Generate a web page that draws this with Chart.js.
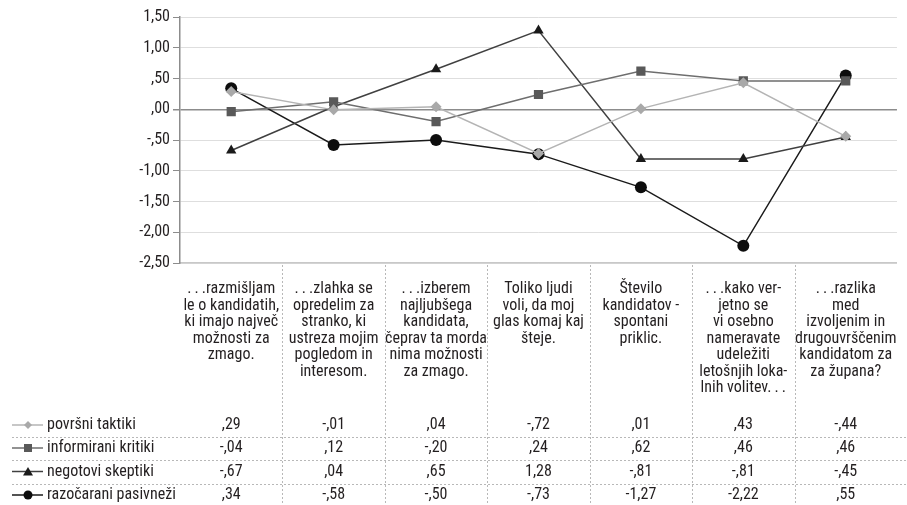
<!DOCTYPE html>
<html>
<head>
<meta charset="utf-8">
<script src="https://cdn.jsdelivr.net/npm/chart.js@4"></script>
<style>
  html, body { margin: 0; padding: 0; background: #fff; }
  #wrap { width: 907px; height: 505px; }
</style>
</head>
<body>
<div id="wrap"><canvas id="chart" width="907" height="505"></canvas></div>
<script>
const DOTS = '.\u2009.\u2009.';
const categories = [
  [DOTS + 'razmišljam', 'le o kandidatih,', 'ki imajo največ', 'možnosti za', 'zmago.'],
  [DOTS + 'zlahka se', 'opredelim za', 'stranko, ki', 'ustreza mojim', 'pogledom in', 'interesom.'],
  [DOTS + 'izberem', 'najljubšega', 'kandidata,', 'čeprav ta morda', 'nima možnosti', 'za zmago.'],
  ['Toliko ljudi', 'voli, da moj', 'glas komaj kaj', 'šteje.'],
  ['Število', 'kandidatov -', 'spontani', 'priklic.'],
  [DOTS + 'kako ver-', 'jetno se', 'vi osebno', 'nameravate', 'udeležiti', 'letošnjih loka-', 'lnih volitev' + DOTS],
  [DOTS + 'razlika', 'med', 'izvoljenim in', 'drugouvrščenim', 'kandidatom za', 'za župana?']
];

const seriesNames = ['površni taktiki', 'informirani kritiki', 'negotovi skeptiki', 'razočarani pasivneži'];
const povrsni = [0.29, -0.01, 0.04, -0.72, 0.01, 0.43, -0.44];
const informirani = [-0.04, 0.12, -0.20, 0.24, 0.62, 0.46, 0.46];
const negotovi = [-0.67, 0.04, 0.65, 1.28, -0.81, -0.81, -0.45];
const razocarani = [0.34, -0.58, -0.50, -0.73, -1.27, -2.22, 0.55];

const yTicks = [1.5, 1.0, 0.5, 0, -0.5, -1.0, -1.5, -2.0, -2.5];

const FONT = "'Liberation Sans Narrow', 'Roboto Condensed', 'DejaVu Sans Condensed', sans-serif";
const TEXT = '#231f20';

// ,29  -1,27  1,28  ,00
function fmt(v) {
  const s = Math.abs(v).toFixed(2).split('.');
  const whole = s[0] === '0' ? '' : s[0];
  return (v < 0 ? '-' : '') + whole + ',' + s[1];
}

const styles = [
  { line: '#b4b4b4', fill: '#a9a9a9', point: 'rectRot', r: 5.5 },
  { line: '#6e6e6e', fill: '#595959', point: 'rect', r: 6.5 },
  { line: '#404040', fill: '#1a1a1a', point: 'triangle', r: 6 },
  { line: '#1a1a1a', fill: '#0d0d0d', point: 'circle', r: 6 }
];
const values = [povrsni, informirani, negotovi, razocarani];

const datasets = values.map((vals, i) => ({
  label: seriesNames[i],
  data: vals,
  borderColor: styles[i].line,
  backgroundColor: styles[i].fill,
  borderWidth: 1.5,
  pointStyle: styles[i].point,
  pointRadius: styles[i].r,
  pointBorderWidth: 0,
  pointBackgroundColor: styles[i].fill,
  tension: 0
}));

// dotted dividers and the data table under the category labels
const tablePlugin = {
  id: 'dataTable',
  afterDraw(chart) {
    const ctx = chart.ctx;
    const x = chart.scales.x;
    const n = categories.length;
    const colW = (chart.chartArea.right - chart.chartArea.left) / n;
    const top = chart.chartArea.bottom;
    const rowY = [425, 448, 471.5, 495];
    const sepY = [436.5, 460, 483.5];

    ctx.save();
    ctx.strokeStyle = '#b8b8b8';
    ctx.lineWidth = 1;
    ctx.setLineDash([2, 2]);
    for (let i = 1; i < n; i++) {
      const px = Math.round(x.getPixelForValue(i) - colW / 2) + 0.5;
      ctx.beginPath();
      ctx.moveTo(px, top + 2);
      ctx.lineTo(px, 505);
      ctx.stroke();
    }
    sepY.forEach(y => {
      ctx.beginPath();
      ctx.moveTo(12, Math.round(y) + 0.5);
      ctx.lineTo(907, Math.round(y) + 0.5);
      ctx.stroke();
    });
    ctx.setLineDash([]);

    ctx.font = '16px ' + FONT;
    ctx.fillStyle = TEXT;
    ctx.textBaseline = 'middle';
    values.forEach((vals, r) => {
      // legend key
      const st = styles[r];
      ctx.strokeStyle = st.line;
      ctx.lineWidth = 1.5;
      ctx.beginPath();
      ctx.moveTo(12, rowY[r]);
      ctx.lineTo(43, rowY[r]);
      ctx.stroke();
      drawMarker(ctx, st, 28, rowY[r]);
      ctx.fillStyle = TEXT;
      ctx.textAlign = 'left';
      ctx.fillText(seriesNames[r], 47, rowY[r]);
      ctx.textAlign = 'center';
      vals.forEach((v, c) => {
        ctx.fillText(fmt(v), x.getPixelForValue(c), rowY[r]);
      });
    });
    ctx.restore();
  }
};

function drawMarker(ctx, st, cx, cy) {
  ctx.fillStyle = st.fill;
  ctx.beginPath();
  if (st.point === 'rectRot') {
    ctx.moveTo(cx, cy - 4); ctx.lineTo(cx + 4, cy); ctx.lineTo(cx, cy + 4); ctx.lineTo(cx - 4, cy);
  } else if (st.point === 'rect') {
    ctx.rect(cx - 4, cy - 4, 8, 8);
  } else if (st.point === 'triangle') {
    ctx.moveTo(cx, cy - 4.5); ctx.lineTo(cx + 5, cy + 4); ctx.lineTo(cx - 5, cy + 4);
  } else {
    ctx.arc(cx, cy, 4.5, 0, Math.PI * 2);
  }
  ctx.closePath();
  ctx.fill();
}

new Chart(document.getElementById('chart'), {
  type: 'line',
  data: { labels: categories, datasets: datasets },
  options: {
    responsive: false,
    animation: false,
    layout: { padding: { top: 17, right: 1, left: 0, bottom: 0 } },
    plugins: { legend: { display: false }, tooltip: { enabled: false } },
    scales: {
      x: {
        offset: true,
        grid: { display: false },
        border: { display: true, color: '#c8c8c8', width: 1.5 },
        ticks: {
          autoSkip: false, maxRotation: 0, minRotation: 0, padding: 10,
          color: TEXT, font: { family: FONT, size: 16, lineHeight: 1.03 }
        },
        afterFit(scale) { scale.height = 242; }
      },
      y: {
        min: -2.5, max: 1.5,
        afterBuildTicks(scale) { scale.ticks = yTicks.map(v => ({ value: v })); },
        afterFit(scale) { scale.width = 180; },
        grid: {
          color: ctx => ctx.tick && ctx.tick.value === 0 ? '#8c8c8c' : '#dedede',
          lineWidth: ctx => ctx.tick && ctx.tick.value === 0 ? 1.5 : 1,
          tickColor: '#8c8c8c', tickLength: 7, drawTicks: true
        },
        border: { display: true, color: '#8c8c8c', width: 1.5 },
        ticks: {
          padding: 3, color: TEXT,
          font: { family: FONT, size: 16 },
          callback: v => fmt(v)
        }
      }
    }
  },
  plugins: [tablePlugin]
});
</script>
</body>
</html>
